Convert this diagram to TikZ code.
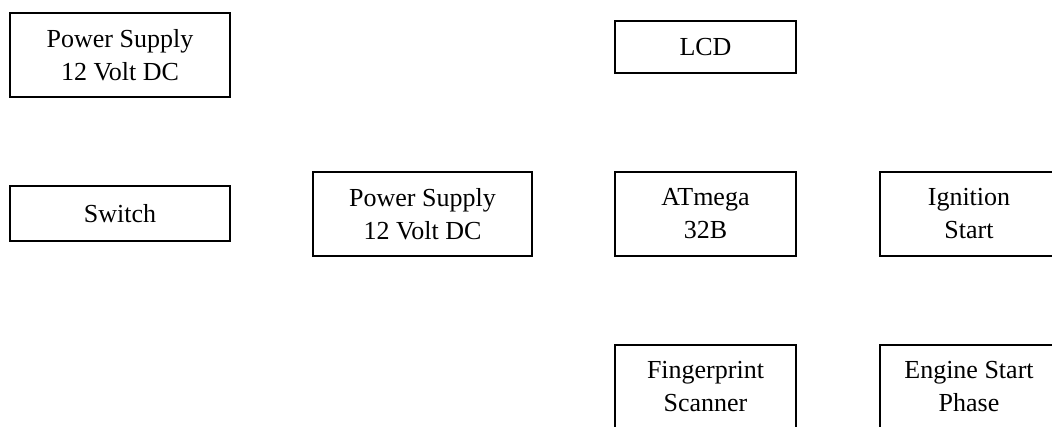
\documentclass[tikz,border=0pt]{standalone}
\usepackage{fontspec}
\setmainfont{Liberation Serif}
\begin{document}
\begin{tikzpicture}[x=1pt,y=1pt,
  blk/.style={draw=black, line width=1.3pt, rectangle, inner sep=0pt, align=center,
    font=\fontsize{26}{33}\selectfont}]
\useasboundingbox (0,0) rectangle (1052,-426);
\clip (0,0) rectangle (1052,-426);
\node[blk, minimum width=220, minimum height=84] (ps1) at (120,-55) {Power Supply\\12 Volt DC};
\node[blk, minimum width=220, minimum height=55] (sw) at (120,-213.5) {Switch};
\node[blk, minimum width=219, minimum height=84] (ps2) at (422.5,-214) {Power Supply\\12 Volt DC};
\node[blk, minimum width=181, minimum height=52] (lcd) at (705.5,-47) {LCD};
\node[blk, minimum width=181, minimum height=84] (atm) at (705.5,-214) {ATmega\\32B};
\node[blk, minimum width=178, minimum height=84] (ign) at (969,-214) {Ignition\\Start};
\node[blk, minimum width=181, minimum height=84] (fp) at (705.5,-387) {Fingerprint\\Scanner};
\node[blk, minimum width=178, minimum height=84] (eng) at (969,-387) {Engine Start\\Phase};
\end{tikzpicture}
\end{document}
